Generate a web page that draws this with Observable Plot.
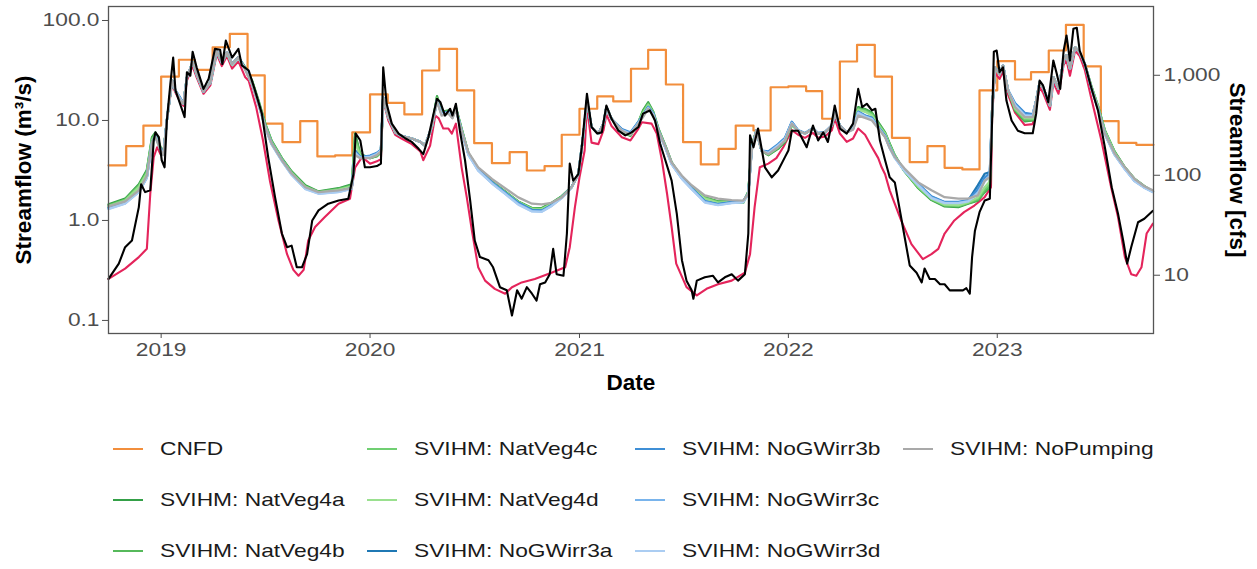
<!DOCTYPE html>
<html>
<head>
<meta charset="utf-8">
<script src="https://cdn.jsdelivr.net/npm/d3@7"></script>
<script src="https://cdn.jsdelivr.net/npm/@observablehq/plot@0.6"></script>
<style>
  body { margin: 0; background: #fff; font-family: "Liberation Sans", Arial, sans-serif; }
  #chart { width: 1257px; height: 569px; overflow: hidden; }
  .legend {
    display: grid;
    grid-template-columns: 254px 268px 268px auto;
    grid-template-rows: repeat(3, 51px);
    grid-auto-flow: column;
    padding: 23px 0 0 113px;
  }
  .item { display: flex; align-items: center; }
  .swatch { width: 30px; height: 0; border-top: 2.8px solid; margin-right: 17px; }
  .lbl { display: inline-block; font-size: 18.5px; color: #1a1a1a; white-space: nowrap;
         transform: scaleX(1.23); transform-origin: left center; }
</style>
</head>
<body>
<div id="chart"></div>
<script>
// ---- Labels and colours ----
const xTitle = "Date";
const yTitleLeft = "Streamflow (m³/s)";
const yTitleRight = "Streamflow [cfs]";
const yearTickLabels = ["2019", "2020", "2021", "2022", "2023"];
const leftTicks = [0.1, 1, 10, 100];
const cfsTicks = [10, 100, 1000];
const CFS_PER_CMS = 35.3147;

const cnfdName = "CNFD";
const cnfdColor = "#f28e3c";
const observedColor = "#000000";
const basecaseColor = "#e4245b";
const scenarioNames = [
  "SVIHM: NatVeg4a", "SVIHM: NatVeg4b", "SVIHM: NatVeg4c", "SVIHM: NatVeg4d",
  "SVIHM: NoGWirr3a", "SVIHM: NoGWirr3b", "SVIHM: NoGWirr3c", "SVIHM: NoGWirr3d",
  "SVIHM: NoPumping"
];
const scenarioColors = [
  "#34a048", "#56b95b", "#70cf72", "#9ae08f",
  "#1f78b4", "#3f8fd6", "#79b4ec", "#abcdf2",
  "#a9a9a9"
];

// ---- CNFD monthly flow (m³/s), Oct 2018 – Sep 2023 ----
const cnfdValues = [
  3.55, 5.54, 8.9, 27.5, 40.5, 32.1, 54, 73.6, 28.2, 9.3, 6.07, 9.85,
  4.37, 4.47, 7.6, 18.2, 15.0, 11.5, 31.6, 52, 20, 5.93, 3.74, 4.82,
  3.16, 3.49, 7.2, 13.1, 17.4, 15.5, 32.9, 50.9, 22.9, 6.07, 3.63, 5.21,
  8.9, 7.94, 21.5, 21.9, 19.7, 10.4, 38.9, 57.1, 27.5, 6.71, 3.83, 5.54,
  3.36, 3.24, 20, 39.2, 25.7, 30.4, 50.1, 90.5, 34.7, 9.85, 5.98, 5.71
];

// ---- Observed streamflow (m³/s) ----
const observed = [
  ["2018-10-01",0.26],["2018-10-19",0.37],["2018-10-30",0.54],["2018-11-11",0.63],["2018-11-23",1.36],["2018-11-27",2.3],["2018-12-04",1.92],["2018-12-13",2.0],["2018-12-19",6.3],["2018-12-22",7.6],["2018-12-28",6.8],["2019-01-02",4.0],["2019-01-07",3.4],["2019-01-11",10],["2019-01-17",23],["2019-01-22",42.5],["2019-01-26",20],["2019-02-03",14.7],["2019-02-11",10.8],["2019-02-15",30.4],["2019-02-21",28],["2019-02-25",48.7],["2019-03-04",34],["2019-03-16",20.7],["2019-03-25",26.1],["2019-04-05",52],["2019-04-14",51],["2019-04-18",36.7],["2019-04-24",63],["2019-05-05",42.5],["2019-05-16",52],["2019-05-22",35.5],["2019-06-03",31.6],["2019-06-14",20],["2019-06-26",11.7],["2019-07-07",4.3],["2019-07-19",1.71],["2019-07-31",0.74],["2019-08-09",0.54],["2019-08-17",0.56],["2019-08-26",0.34],["2019-09-04",0.34],["2019-09-13",0.46],["2019-09-22",1.0],
  ["2019-10-03",1.26],["2019-10-20",1.47],["2019-11-07",1.58],["2019-11-24",1.65],["2019-12-03",2.9],["2019-12-07",7.4],["2019-12-15",6.3],["2019-12-23",3.4],["2020-01-01",3.4],["2020-01-13",3.5],["2020-01-20",3.7],["2020-01-24",34],["2020-01-30",14.7],["2020-02-08",9.3],["2020-02-20",7.4],["2020-03-03",6.6],["2020-03-14",6.1],["2020-03-26",5.2],["2020-04-03",4.6],["2020-04-12",6.8],["2020-04-21",11.7],["2020-04-27",16.5],["2020-05-03",15.2],["2020-05-11",11.2],["2020-05-20",13.1],["2020-05-24",11.2],["2020-05-30",14.7],["2020-06-06",7.9],["2020-06-15",4.0],["2020-06-24",1.58],["2020-07-02",0.63],["2020-07-11",0.43],["2020-07-26",0.40],["2020-08-03",0.34],["2020-08-15",0.215],["2020-08-27",0.20],["2020-09-05",0.112],["2020-09-14",0.20],["2020-09-22",0.165],
  ["2020-10-01",0.215],["2020-10-10",0.185],["2020-10-18",0.158],["2020-10-24",0.23],["2020-11-02",0.24],["2020-11-10",0.29],["2020-11-16",0.52],["2020-11-22",0.29],["2020-12-04",0.28],["2020-12-10",0.74],["2020-12-15",3.7],["2020-12-21",2.5],["2020-12-30",2.9],["2021-01-05",5.4],["2021-01-14",18.5],["2021-01-22",8.6],["2021-02-01",7.4],["2021-02-09",7.6],["2021-02-17",14.1],["2021-02-26",10.4],["2021-03-10",7.9],["2021-03-22",7.1],["2021-04-02",7.6],["2021-04-14",8.6],["2021-04-22",11.7],["2021-05-04",12.6],["2021-05-13",10],["2021-05-22",5.85],["2021-05-31",4.0],["2021-06-11",2.5],["2021-06-20",1.17],["2021-06-29",0.40],["2021-07-07",0.25],["2021-07-16",0.20],["2021-07-19",0.165],["2021-07-25",0.25],["2021-08-08",0.27],["2021-08-22",0.28],["2021-08-31",0.24],["2021-09-12",0.27],["2021-09-24",0.29],
  ["2021-10-05",0.25],["2021-10-17",0.29],["2021-10-23",0.74],["2021-10-26",7.1],["2021-11-01",5.4],["2021-11-09",8.3],["2021-11-21",3.4],["2021-12-03",2.7],["2021-12-14",3.16],["2021-12-26",4.3],["2022-01-01",5.0],["2022-01-07",7.9],["2022-01-18",7.9],["2022-02-02",5.4],["2022-02-13",8.9],["2022-02-22",6.3],["2022-03-03",7.6],["2022-03-11",6.1],["2022-03-18",9.6],["2022-03-23",14.1],["2022-04-01",8.3],["2022-04-13",7.4],["2022-04-24",9.3],["2022-05-03",20.7],["2022-05-10",13.6],["2022-05-18",14.7],["2022-05-27",12.6],["2022-06-02",13.1],["2022-06-10",6.3],["2022-06-19",4.0],["2022-06-27",2.7],["2022-07-06",2.4],["2022-07-18",1.0],["2022-08-01",0.355],["2022-08-13",0.30],["2022-08-22",0.24],["2022-08-27",0.33],["2022-09-05",0.26],["2022-09-14",0.26],["2022-09-23",0.23],
  ["2022-10-01",0.23],["2022-10-10",0.20],["2022-10-22",0.20],["2022-11-02",0.20],["2022-11-08",0.21],["2022-11-14",0.185],["2022-11-18",0.43],["2022-11-23",0.79],["2022-12-01",1.21],["2022-12-10",1.58],["2022-12-19",1.65],["2022-12-23",10],["2022-12-26",48.7],["2022-12-31",50],["2023-01-05",30.4],["2023-01-11",34],["2023-01-17",15.8],["2023-01-26",10],["2023-02-06",7.9],["2023-02-18",7.45],["2023-03-04",7.45],["2023-03-10",11.7],["2023-03-16",25.1],["2023-03-22",22.4],["2023-03-31",15.2],["2023-04-09",39.8],["2023-04-15",29.3],["2023-04-21",20.7],["2023-04-27",50],["2023-05-02",70.8],["2023-05-08",39.8],["2023-05-14",82.6],["2023-05-20",84.5],["2023-05-25",50],["2023-06-03",36.7],["2023-06-14",21.5],["2023-06-26",12.6],["2023-07-08",5.4],["2023-07-20",2.15],["2023-07-31",1.17],["2023-08-09",0.63],["2023-08-16",0.37],["2023-08-23",0.54],["2023-09-04",0.96],["2023-09-15",1.04],["2023-09-30",1.25]
];

// ---- SVIHM basecase (m³/s) ----
const basecase = [
  ["2018-10-01",0.26],["2018-10-30",0.33],["2018-11-23",0.43],["2018-12-07",0.52],["2018-12-13",1.85],["2018-12-19",4.3],["2018-12-25",5.4],["2018-12-31",4.6],["2019-01-05",4.8],["2019-01-11",10],["2019-01-20",23],["2019-01-26",19],["2019-02-03",15.5],["2019-02-09",14],["2019-02-15",25],["2019-02-25",35],["2019-03-04",27],["2019-03-16",18.5],["2019-03-28",22.5],["2019-04-08",46],["2019-04-17",35],["2019-04-26",44],["2019-05-05",33],["2019-05-16",39],["2019-05-28",27],["2019-06-03",25],["2019-06-16",13.6],["2019-06-28",6.3],["2019-07-10",2.5],["2019-07-25",1.0],["2019-08-09",0.46],["2019-08-20",0.32],["2019-08-29",0.28],["2019-09-07",0.32],["2019-09-15",0.63],["2019-09-27",0.86],
  ["2019-10-14",1.08],["2019-11-07",1.47],["2019-11-27",1.65],["2019-12-06",3.4],["2019-12-18",4.3],["2020-01-01",3.7],["2020-01-13",3.9],["2020-01-20",4.1],["2020-01-24",16],["2020-02-02",10],["2020-02-14",7.2],["2020-02-25",6.6],["2020-03-14",5.8],["2020-03-29",4.9],["2020-04-03",4.0],["2020-04-15",5.6],["2020-04-24",11.2],["2020-04-30",10.5],["2020-05-08",8.3],["2020-05-17",8.3],["2020-05-23",7.4],["2020-05-30",9.3],["2020-06-09",3.4],["2020-06-18",1.71],["2020-06-27",0.79],["2020-07-08",0.34],["2020-07-20",0.25],["2020-08-06",0.207],["2020-08-24",0.185],["2020-09-05",0.215],["2020-09-22",0.24],
  ["2020-10-15",0.26],["2020-11-13",0.30],["2020-12-07",0.34],["2020-12-15",0.54],["2020-12-24",1.36],["2021-01-01",2.7],["2021-01-10",5.0],["2021-01-14",14],["2021-01-22",6.0],["2021-02-03",5.8],["2021-02-12",8.0],["2021-02-17",11.5],["2021-02-26",8.8],["2021-03-16",6.8],["2021-03-31",6.3],["2021-04-14",8.3],["2021-04-20",9.6],["2021-05-07",9.3],["2021-05-16",7.4],["2021-05-25",4.0],["2021-06-03",1.85],["2021-06-11",0.86],["2021-06-19",0.37],["2021-07-07",0.215],["2021-07-25",0.178],["2021-08-11",0.207],["2021-08-31",0.23],["2021-09-24",0.25],
  ["2021-10-17",0.30],["2021-10-26",0.46],["2021-11-03",1.36],["2021-11-12",3.4],["2021-11-27",3.7],["2021-12-11",4.2],["2021-12-23",5.4],["2022-01-07",8.0],["2022-01-18",7.2],["2022-01-30",6.7],["2022-02-13",7.5],["2022-02-22",6.7],["2022-03-06",6.9],["2022-03-18",8.0],["2022-03-23",10.5],["2022-04-01",7.4],["2022-04-13",6.1],["2022-04-24",6.6],["2022-05-03",8.3],["2022-05-15",7.2],["2022-05-27",5.4],["2022-06-07",4.2],["2022-06-13",3.4],["2022-06-19",2.9],["2022-06-27",2.0],["2022-07-17",1.0],["2022-08-04",0.58],["2022-08-24",0.41],["2022-09-08",0.46],["2022-09-20",0.52],
  ["2022-10-01",0.74],["2022-10-18",1.0],["2022-11-04",1.21],["2022-11-22",1.41],["2022-12-10",1.71],["2022-12-21",2.15],["2022-12-23",11],["2022-12-28",30],["2023-01-05",26],["2023-01-11",31],["2023-01-20",18],["2023-02-01",12],["2023-02-18",9.0],["2023-03-04",9.2],["2023-03-10",14],["2023-03-16",21.5],["2023-03-22",19],["2023-04-03",12.8],["2023-04-09",24],["2023-04-18",18.5],["2023-04-27",36],["2023-05-02",40],["2023-05-08",28],["2023-05-17",50],["2023-05-25",44],["2023-06-03",32],["2023-06-14",17],["2023-07-02",6.3],["2023-07-19",2.15],["2023-07-31",1.08],["2023-08-12",0.43],["2023-08-23",0.29],["2023-09-01",0.28],["2023-09-10",0.34],["2023-09-19",0.74],["2023-09-30",0.93]
];

// ---- SVIHM scenario runs (m³/s), one value per date below ----
const scenarioDates = [
  "2018-10-01","2018-10-30","2018-11-23","2018-12-07","2018-12-16","2018-12-22","2018-12-31","2019-01-05","2019-01-11","2019-01-20","2019-01-26","2019-02-03","2019-02-09","2019-02-15","2019-02-25","2019-03-04","2019-03-16","2019-03-28","2019-04-08","2019-04-17","2019-04-26","2019-05-05","2019-05-16","2019-05-28","2019-06-09","2019-06-20","2019-07-02","2019-07-13","2019-07-31","2019-08-17","2019-09-10",
  "2019-10-03","2019-11-07","2019-11-30","2019-12-06","2019-12-15","2020-01-01","2020-01-13","2020-01-20","2020-01-24","2020-02-02","2020-02-14","2020-02-25","2020-03-14","2020-03-29","2020-04-06","2020-04-18","2020-04-27","2020-05-05","2020-05-17","2020-05-24","2020-05-30","2020-06-09","2020-06-21","2020-07-08","2020-08-01","2020-08-24","2020-09-16",
  "2020-10-10","2020-10-27","2020-11-13","2020-12-01","2020-12-18","2020-12-30","2021-01-08","2021-01-14","2021-01-22","2021-02-03","2021-02-12","2021-02-17","2021-02-26","2021-03-16","2021-03-31","2021-04-14","2021-04-22","2021-05-01","2021-05-10","2021-05-19","2021-05-31","2021-06-11","2021-06-29","2021-07-16","2021-08-08","2021-08-31","2021-09-24",
  "2021-10-14","2021-10-23","2021-10-29","2021-11-06","2021-11-15","2021-11-27","2021-12-14","2021-12-26","2022-01-07","2022-01-18","2022-01-30","2022-02-13","2022-02-22","2022-03-06","2022-03-18","2022-03-23","2022-04-01","2022-04-13","2022-04-24","2022-05-03","2022-05-15","2022-05-27","2022-06-07","2022-06-19","2022-06-27","2022-07-06","2022-07-23","2022-08-16","2022-09-08",
  "2022-10-01","2022-10-25","2022-11-11","2022-11-28","2022-12-10","2022-12-19","2022-12-23","2022-12-28","2023-01-05","2023-01-11","2023-01-20","2023-02-01","2023-02-18","2023-03-04","2023-03-10","2023-03-16","2023-03-22","2023-04-03","2023-04-09","2023-04-18","2023-04-27","2023-05-02","2023-05-08","2023-05-17","2023-05-25","2023-06-03","2023-06-14","2023-06-26","2023-07-08","2023-07-25","2023-08-12","2023-08-29","2023-09-15","2023-09-30"
];

const natVeg4a = [
  1.45,1.65,2.3,3.2,6.8,7.6,5.4,4.7,10,25,20,16,14.7,27,38,29,19.5,24,50,38,48,36.7,43,34,25,16,9.3,6.3,4.2,3.1,2.25,
  1.95,2.1,2.3,7.4,4.6,4.2,4.4,4.8,17,10.8,7.6,7.0,6.6,6.1,5.6,8.6,17.5,12.2,12.6,11.2,13.6,8.3,4.7,3.3,2.45,1.95,1.55,
  1.33,1.33,1.5,1.75,2.15,2.9,7.4,15.8,8.6,7.4,9.3,13.6,10.4,7.7,7.0,9.6,12.6,15.2,12.2,8.3,5.6,3.8,2.7,2.15,1.7,1.55,1.55,
  1.5,1.95,5.6,7.9,5.0,4.5,5.2,6.1,9.0,7.9,7.4,8.3,7.4,7.6,8.9,11.7,8.9,7.6,8.6,13.6,13.0,12.0,9.6,7.6,5.9,4.5,3.1,2.1,1.6,
  1.38,1.36,1.47,1.58,1.92,2.15,12.6,34,29,35.5,20,12.6,9.8,10.0,15.8,24,21.5,14.1,27,20.7,40,45,33,54,48,36.7,22.5,14,8.0,4.9,3.4,2.6,2.2,1.95
];
const natVeg4b = [
  1.42,1.62,2.25,3.1,6.6,7.4,5.3,4.7,10,25,20,16,14.7,27,38,29,19.5,24,49,38,47,36,42,33.5,24.5,15.6,9.1,6.2,4.15,3.05,2.2,
  1.93,2.07,2.25,7.0,4.5,4.2,4.4,4.8,17,10.8,7.6,7.0,6.6,6.1,5.6,8.6,17,12,12.4,11,13.4,8.2,4.7,3.3,2.43,1.93,1.54,
  1.32,1.31,1.48,1.74,2.15,2.9,7.4,15.8,8.6,7.4,9.3,13.6,10.4,7.8,7.1,9.6,12.3,14.8,12,8.2,5.6,3.8,2.7,2.15,1.69,1.54,1.54,
  1.5,1.93,5.5,7.9,5.0,4.5,5.3,6.2,9.1,7.9,7.4,8.3,7.4,7.6,8.9,11.7,8.9,7.6,8.5,13.3,12.8,11.8,9.4,7.5,5.8,4.45,3.1,2.12,1.62,
  1.4,1.38,1.49,1.6,1.95,2.2,12.6,34,29,35.5,20,12.8,10,10.1,15.8,24,21.5,14.1,27,20.7,40,45,33,54,48,36.7,22.3,13.9,7.9,4.85,3.38,2.6,2.2,1.95
];
const natVeg4c = [
  1.4,1.6,2.2,3.0,6.4,7.2,5.3,4.65,10,25,20,16.2,14.7,27,38,29,19.5,24,49,38,47,36,42,33,24,15.3,8.9,6.1,4.1,3.0,2.18,
  1.92,2.04,2.2,6.5,4.5,4.25,4.5,4.9,17,10.8,7.6,7.0,6.6,6.1,5.6,8.6,16.8,11.9,12.3,10.9,13.3,8.1,4.65,3.28,2.42,1.92,1.53,
  1.31,1.3,1.46,1.73,2.15,2.9,7.4,15.8,8.6,7.4,9.3,13.6,10.4,7.9,7.2,9.6,12,14.5,11.9,8.1,5.5,3.75,2.68,2.13,1.67,1.52,1.53,
  1.51,1.9,5.4,7.9,5.0,4.6,5.4,6.3,9.2,7.9,7.4,8.3,7.4,7.6,8.9,11.7,8.9,7.6,8.4,13,12.5,11.5,9.2,7.4,5.7,4.4,3.1,2.15,1.64,
  1.42,1.4,1.5,1.65,2.05,2.35,12.6,34,29,35.5,20,13,10.3,10.3,15.8,24,21.5,14.1,27,20.7,40,45,33,54,48,36.7,22,13.7,7.8,4.8,3.36,2.58,2.18,1.95
];
const natVeg4d = [
  1.38,1.57,2.15,2.95,6.3,7.1,5.2,4.6,10,25,20,16.4,14.7,27,38,29,19.5,24,49,38,47,36,42,33,23.8,15.1,8.8,6.0,4.05,2.98,2.16,
  1.9,2.02,2.18,6.0,4.4,4.3,4.55,4.95,17,10.8,7.6,7.0,6.6,6.1,5.6,8.6,16.5,11.8,12.2,10.9,13.2,8.0,4.65,3.26,2.41,1.91,1.52,
  1.3,1.29,1.45,1.72,2.15,2.9,7.4,15.8,8.6,7.4,9.3,13.6,10.4,8.0,7.3,9.6,11.8,14.2,11.8,8.0,5.5,3.72,2.67,2.12,1.65,1.5,1.52,
  1.52,1.88,5.3,7.9,5.0,4.65,5.5,6.4,9.3,7.9,7.4,8.3,7.4,7.6,8.9,11.7,8.9,7.6,8.4,12.8,12.2,11.2,9.0,7.3,5.6,4.4,3.12,2.18,1.66,
  1.44,1.42,1.52,1.7,2.15,2.45,12.6,34,29,35.5,20,13.3,10.6,10.5,15.8,24,21.5,14.1,27,20.7,40,45,33,54,48,36.7,21.8,13.5,7.7,4.75,3.34,2.56,2.17,1.95
];
const noGWirr3a = [
  1.33,1.5,1.95,2.7,6.0,7.0,5.2,4.6,10,25,20,17,14.7,27,38,29,19.5,24,50,38,48,36.7,43,33,23.3,14.7,8.6,5.85,4.0,2.9,2.1,
  1.88,1.95,2.1,5.0,4.3,4.4,4.7,5.1,17,10.8,7.6,7.0,6.6,6.1,5.6,8.6,16,11.7,12.2,10.8,13.1,7.9,4.6,3.2,2.4,1.9,1.5,
  1.27,1.25,1.42,1.7,2.15,2.9,7.4,15.8,8.6,7.4,9.3,13.6,10.4,8.1,7.5,9.6,11.2,13.6,11.7,7.9,5.4,3.7,2.65,2.1,1.55,1.45,1.52,
  1.55,1.85,5.2,7.9,5.0,4.8,5.7,6.6,9.6,7.9,7.4,8.3,7.4,7.6,8.9,11.7,8.9,7.6,8.3,12.2,11.2,10.6,8.6,7.0,5.4,4.3,3.16,2.3,1.72,
  1.52,1.52,1.58,2.24,2.93,3.04,12.6,34,29,35.5,20,14.7,11.7,11.4,15.8,24,21.5,14.1,27,20.7,40,45,33,54,48,36.7,21.5,13.1,7.4,4.6,3.3,2.5,2.15,1.95
];
const noGWirr3b = [
  1.34,1.51,1.97,2.72,6.0,7.0,5.2,4.6,10,25,20,16.8,14.7,27,38,29,19.5,24,50,38,48,36.7,43,33,23.3,14.8,8.6,5.9,4.0,2.92,2.12,
  1.89,1.96,2.1,4.9,4.3,4.45,4.75,5.1,17,10.8,7.6,7.0,6.6,6.1,5.6,8.6,16,11.7,12.2,10.8,13.1,7.9,4.6,3.22,2.4,1.9,1.5,
  1.27,1.25,1.42,1.7,2.15,2.9,7.4,15.8,8.6,7.4,9.3,13.6,10.4,8.2,7.6,9.7,11.3,13.7,11.7,7.9,5.4,3.7,2.65,2.1,1.56,1.46,1.52,
  1.56,1.86,5.2,7.9,5.0,4.9,5.8,6.7,9.7,8.0,7.5,8.4,7.5,7.7,9.0,11.7,8.9,7.6,8.3,12.2,11.2,10.6,8.6,7.0,5.4,4.3,3.18,2.32,1.74,
  1.53,1.53,1.6,2.05,2.7,2.95,12.6,34,29,35.5,20,14.9,11.9,11.6,15.8,24,21.5,14.1,27,20.7,40,45,33,54,48,36.7,21.5,13.1,7.4,4.6,3.3,2.5,2.15,1.95
];
const noGWirr3c = [
  1.31,1.48,1.93,2.68,5.9,6.9,5.1,4.55,10,25,20,16.6,14.7,27,38,29,19.5,24,50,38,48,36.5,42.5,32.6,23,14.5,8.5,5.8,3.95,2.87,2.08,
  1.86,1.93,2.08,4.8,4.25,4.35,4.65,5.05,17,10.8,7.6,7.0,6.6,6.1,5.6,8.6,15.8,11.6,12.1,10.7,13,7.8,4.55,3.17,2.36,1.86,1.46,
  1.24,1.23,1.4,1.68,2.13,2.9,7.4,15.8,8.6,7.4,9.3,13.6,10.4,8.0,7.4,9.5,11.1,13.4,11.5,7.8,5.35,3.66,2.62,2.07,1.53,1.43,1.5,
  1.53,1.84,5.1,7.9,5.0,4.75,5.65,6.5,9.5,7.9,7.4,8.3,7.4,7.6,8.9,11.7,8.9,7.6,8.2,12,11,10.4,8.5,6.9,5.35,4.25,3.14,2.27,1.69,
  1.5,1.5,1.56,1.9,2.5,2.8,12.6,34,29,35.5,20,14.4,11.4,11.2,15.8,24,21.5,14.1,27,20.7,40,45,33,54,48,36.7,21.3,13,7.3,4.55,3.27,2.48,2.13,1.93
];
const noGWirr3d = [
  1.3,1.47,1.92,2.66,5.85,6.85,5.1,4.55,10,25,20,16.5,14.7,27,38,29,19.5,24,50,38,48,36.4,42.3,32.4,22.8,14.4,8.4,5.75,3.93,2.85,2.06,
  1.85,1.92,2.07,4.7,4.2,4.3,4.6,5.0,17,10.8,7.6,7.0,6.6,6.1,5.6,8.6,15.6,11.5,12,10.6,12.9,7.75,4.5,3.15,2.34,1.84,1.44,
  1.23,1.22,1.39,1.67,2.12,2.9,7.4,15.8,8.6,7.4,9.3,13.6,10.4,7.95,7.35,9.4,11,13.3,11.4,7.75,5.3,3.64,2.6,2.05,1.51,1.42,1.49,
  1.52,1.83,5.05,7.9,5.0,4.7,5.6,6.45,9.4,7.9,7.4,8.3,7.4,7.6,8.9,11.7,8.9,7.6,8.15,11.9,10.9,10.3,8.4,6.85,5.3,4.2,3.12,2.25,1.67,
  1.49,1.49,1.55,1.85,2.45,2.75,12.6,34,29,35.5,20,14.2,11.2,11.1,15.8,24,21.5,14.1,27,20.7,40,45,33,54,48,36.7,21.2,12.9,7.25,4.52,3.25,2.47,2.12,1.92
];
const noPumping = [
  1.38,1.55,2.0,2.8,6.0,6.8,5.0,4.5,10,25,20,16,14.7,27,38,29,19.5,24,50,38,48,36.7,43,32,23,14.7,8.6,5.9,4.0,2.95,2.15,
  1.92,2.0,2.1,4.5,4.2,4.2,4.5,4.9,17,10.8,7.6,7.0,6.6,6.1,5.6,8.6,15.5,11.2,11.7,10.5,12.8,7.9,4.8,3.4,2.6,2.1,1.7,
  1.47,1.45,1.5,1.7,2.15,2.9,7.4,15.8,8.6,7.4,9.3,13.6,10.4,7.9,7.2,9.3,10.8,13.1,11.2,7.9,5.5,3.8,2.8,2.25,1.78,1.65,1.6,
  1.58,1.85,5.0,7.9,5.0,4.6,5.4,6.3,9.3,7.9,7.4,8.3,7.4,7.6,8.9,11.7,8.9,7.6,8.1,11.2,10.6,10.0,8.3,6.8,5.3,4.3,3.3,2.4,2.0,
  1.71,1.65,1.65,1.78,2.5,2.7,12.6,34,29,35.5,20,13.6,10.8,10.8,15.8,24,21.5,14.1,27,20.7,40,45,33,54,48,36.7,21.5,13.1,7.4,4.7,3.4,2.6,2.2,2.0
];
const scenarioValues = [natVeg4a, natVeg4b, natVeg4c, natVeg4d, noGWirr3a, noGWirr3b, noGWirr3c, noGWirr3d, noPumping];

// ---- Tables for the marks ----
const parse = d3.utcParse("%Y-%m-%d");
const start = parse("2018-10-01");
const end = parse("2023-10-01");
const toRows = pairs => pairs.map(([d, v]) => ({date: parse(d), value: v}));

const months = d3.utcMonth.range(start, end);
const cnfdRows = months.map((m, i) => ({date: m, value: cnfdValues[i]}));
cnfdRows.push({date: end, value: cnfdValues[cnfdValues.length - 1]}); // close the last monthly step
const observedRows = toRows(observed);
const basecaseRows = toRows(basecase);
const scenarioRows = scenarioNames.flatMap((name, k) =>
  scenarioDates.map((d, i) => ({date: parse(d), value: scenarioValues[k][i], series: name})));
const yearTicks = yearTickLabels.map(y => parse(`${y}-01-01`));

const axisStyle = {color: "#4d4d4d", label: null};
const titleStyle = {text: d => d, fontSize: 22.5, fontWeight: "bold", fill: "#000", textAnchor: "middle", lineAnchor: "middle"};

const chart = Plot.plot({
  width: 1257,
  height: 400,
  marginLeft: 108,
  marginRight: 104,
  marginTop: 6,
  marginBottom: 67,
  style: {fontFamily: '"Liberation Sans", Arial, sans-serif', fontSize: "18.5px", background: "white", overflow: "visible"},
  x: {type: "utc", domain: [start, end]},
  y: {type: "log", domain: [0.074, 138]},
  color: {domain: scenarioNames, range: scenarioColors},
  marks: [
    Plot.line(cnfdRows, {x: "date", y: "value", stroke: cnfdColor, strokeWidth: 2.2, curve: "step-after"}),
    Plot.line(basecaseRows, {x: "date", y: "value", stroke: basecaseColor, strokeWidth: 2.1}),
    Plot.line(scenarioRows, {x: "date", y: "value", z: "series", stroke: "series", strokeWidth: 2.3}),
    Plot.line(observedRows, {x: "date", y: "value", stroke: observedColor, strokeWidth: 2.1}),
    Plot.frame({stroke: "#555", strokeWidth: 1.3}),
    Plot.axisX({...axisStyle, ticks: yearTicks, tickFormat: d3.utcFormat("%Y"), tickSize: 5, tickPadding: 4}),
    Plot.axisY({...axisStyle, anchor: "left", ticks: leftTicks, tickFormat: d3.format(".1f"), tickSize: 6, tickPadding: 3}),
    Plot.axisY({...axisStyle, anchor: "right", ticks: cfsTicks.map(c => c / CFS_PER_CMS),
      tickFormat: v => d3.format(",")(Math.round(v * CFS_PER_CMS)), tickSize: 6, tickPadding: 4}),
    Plot.text([xTitle], {...titleStyle, frameAnchor: "bottom", dy: 49}),
    Plot.text([yTitleLeft], {...titleStyle, frameAnchor: "left", dx: -85, rotate: -90}),
    Plot.text([yTitleRight], {...titleStyle, frameAnchor: "right", dx: 84, rotate: 90})
  ]
});

const root = document.getElementById("chart");
root.appendChild(chart);

// Tick labels use a wide letterform
chart.querySelectorAll('g[aria-label$="tick label"] text').forEach(t => {
  const w = t.getComputedTextLength();
  t.setAttribute("textLength", (w * 1.23).toFixed(1));
  t.setAttribute("lengthAdjust", "spacingAndGlyphs");
});

// ---- Line legend below the plot ----
const legendEntries = [{name: cnfdName, color: cnfdColor}]
  .concat(scenarioNames.map((name, i) => ({name, color: scenarioColors[i]})));
const legend = document.createElement("div");
legend.className = "legend";
for (const e of legendEntries) {
  const item = document.createElement("div");
  item.className = "item";
  const sw = document.createElement("span");
  sw.className = "swatch";
  sw.style.borderTopColor = e.color;
  const lbl = document.createElement("span");
  lbl.className = "lbl";
  lbl.textContent = e.name;
  item.append(sw, lbl);
  legend.appendChild(item);
}
root.appendChild(legend);
</script>
</body>
</html>
